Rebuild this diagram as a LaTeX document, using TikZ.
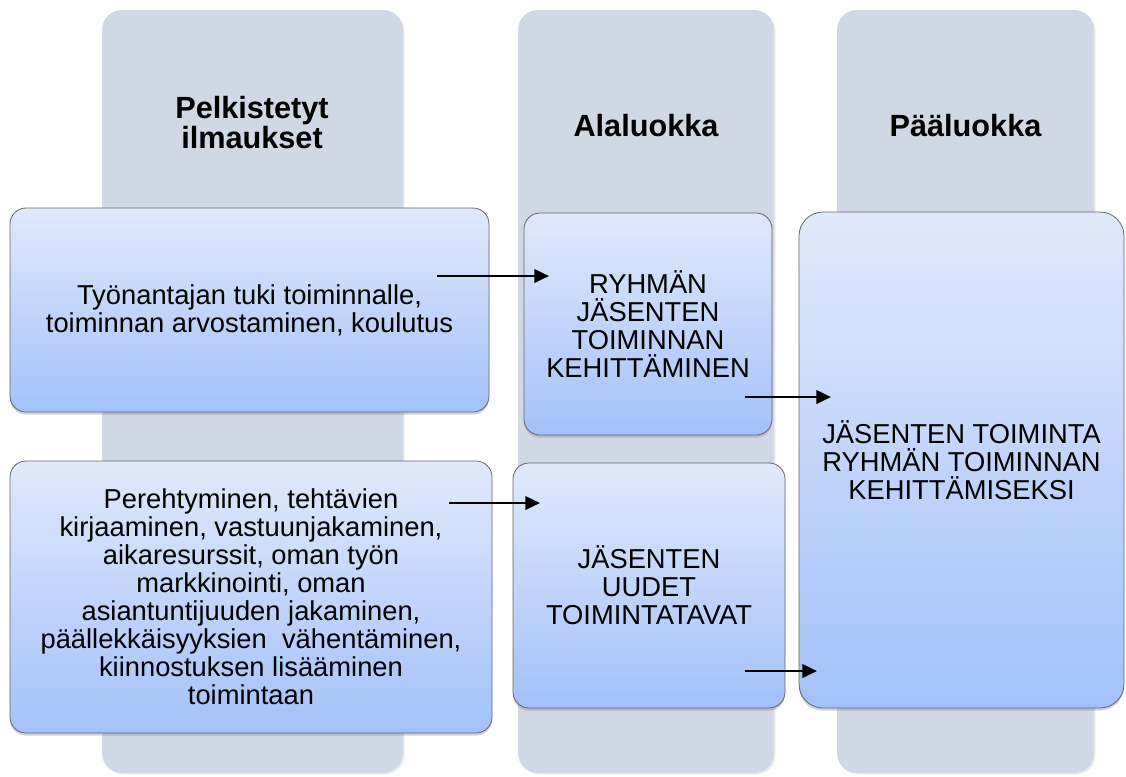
\documentclass[tikz,border=0pt]{standalone}
\usepackage{fontspec}
\setmainfont{Liberation Sans}
\usetikzlibrary{arrows.meta,shadows,positioning}
\definecolor{kolharmaa}{HTML}{D0D7E5}
\definecolor{laatylä}{HTML}{E0E9FB}
\definecolor{laatala}{HTML}{A3C1F9}
\definecolor{laatreuna}{HTML}{666666}

\begin{document}
\begin{tikzpicture}[
    x=0.75pt,y=-0.75pt,
    sarake/.style   = {rectangle, rounded corners=15pt, fill=kolharmaa,
                       minimum width=#1, minimum height=572.25pt, inner sep=0pt,
                       drop shadow={opacity=0.15, shadow xshift=1.2pt, shadow yshift=-1.2pt}},
    otsikko/.style  = {font=\fontsize{23}{22.5}\selectfont\bfseries, align=center},
    laatikko/.style = {rectangle, rounded corners=12pt, draw=laatreuna, line width=0.6pt,
                       top color=laatylä, bottom color=laatala, align=center,
                       font=\fontsize{20.5}{21}\selectfont, inner sep=0pt,
                       drop shadow={opacity=0.35, shadow xshift=0pt, shadow yshift=-2pt}},
    nuoli/.style    = {-{Triangle[length=11pt,width=10pt]}, line width=2pt},
  ]

  \useasboundingbox (0,0) rectangle (1126,776);

  % taustasarakkeet
  \node[sarake=225.75pt] (s1) at (252.5,391.5) {};
  \node[sarake=192pt]    (s2) at (646,391.5)   {};
  \node[sarake=192.75pt] (s3) at (965.5,391.5) {};

  \node[otsikko] (o1) at (252,123)   {Pelkistetyt\\ilmaukset};
  \node[otsikko] (o2) at (646,126)   {Alaluokka};
  \node[otsikko] (o3) at (965.5,126) {Pääluokka};

  % ilmaukset
  \node[laatikko, minimum width=359.25pt, minimum height=153pt] (a1) at (249.5,310)
       {Työnantajan tuki toiminnalle,\\toiminnan arvostaminen, koulutus};
  \node[laatikko, minimum width=361.5pt, minimum height=204pt] (a2) at (251,597)
       {Perehtyminen, tehtävien\\kirjaaminen, vastuunjakaminen,\\aikaresurssit, oman työn\\
        markkinointi, oman\\asiantuntijuuden jakaminen,\\päällekkäisyyksien\ \ vähentäminen,\\
        kiinnostuksen lisääminen\\toimintaan};

  % alaluokat
  \node[laatikko, minimum width=186pt, minimum height=166.5pt] (b1) at (648,324)
       {RYHMÄN\\JÄSENTEN\\TOIMINNAN\\KEHITTÄMINEN};
  \node[laatikko, minimum width=204pt, minimum height=183.75pt] (b2) at (649,585.5)
       {JÄSENTEN\\UUDET\\TOIMINTATAVAT};

  % pääluokka
  \node[laatikko, rounded corners=18pt, minimum width=243.75pt, minimum height=372pt] (c) at (961.5,460)
       {JÄSENTEN TOIMINTA\\RYHMÄN TOIMINNAN\\KEHITTÄMISEKSI};

  \coordinate (n1a) at (437,276);  \coordinate (n1b) at (549,276);
  \coordinate (n2a) at (745,397);  \coordinate (n2b) at (831,397);
  \coordinate (n3a) at (449,503);  \coordinate (n3b) at (540,503);
  \coordinate (n4a) at (745,671);  \coordinate (n4b) at (817,671);

  \foreach \n in {1,2,3,4} \draw[nuoli] (n\n a) -- (n\n b);

\end{tikzpicture}
\end{document}
